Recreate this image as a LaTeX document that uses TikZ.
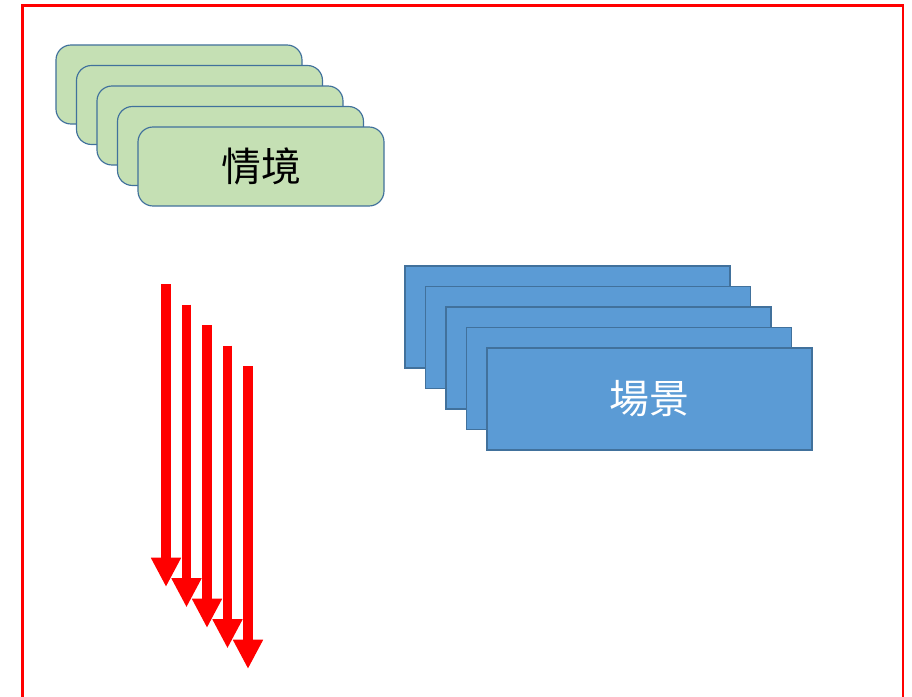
\documentclass[tikz,border=0pt]{standalone}
\usepackage{fontspec}
\newfontfamily\cjk{Noto Sans CJK TC}
\usetikzlibrary{positioning,arrows.meta}
\definecolor{sitgreen}{HTML}{C5E0B4}
\definecolor{scenblue}{HTML}{5B9BD5}
\definecolor{edgeblue}{HTML}{41719C}
\begin{document}
\begin{tikzpicture}[x=0.03cm, y=-0.03cm]

% Define styles
\tikzstyle{situation} = [rectangle, rounded corners=0.45cm, draw=edgeblue, line width=1pt, fill=sitgreen, minimum width=7.38cm, minimum height=2.37cm, font=\cjk\fontsize{34}{40}\selectfont]
\tikzstyle{scene} = [rectangle, draw=edgeblue, line width=1pt, fill=scenblue, minimum width=9.75cm, minimum height=3.06cm, text=white, font=\cjk\fontsize{34}{40}\selectfont]
\tikzstyle{flow} = [red, line width=8.5pt, -{Triangle[width=24pt,length=25pt]}]

\useasboundingbox (0,0) rectangle (912,697);

% Outer frame
\draw [red, line width=2pt] (22.5,710) -- (22.5,5.5) -- (903,5.5) -- (903,710);

% Stack of situations
\node [situation] (sit1) at (179,84.5) {};
\node [situation] (sit2) at (199.5,105) {};
\node [situation] (sit3) at (220,125.5) {};
\node [situation] (sit4) at (240.5,146) {};
\node [situation] (sit5) at (261,166.5) {情境};

% Stack of scenes
\node [scene] (scn1) at (567.5,317) {};
\node [scene] (scn2) at (588,337.5) {};
\node [scene] (scn3) at (608.5,358) {};
\node [scene] (scn4) at (629,378.5) {};
\node [scene] (scn5) at (649.5,399) {場景};

% Arrow ends
\coordinate (a1top) at (166,284);
\coordinate (a1end) at (166,587);
\coordinate (a2top) at (186.5,304.5);
\coordinate (a2end) at (186.5,607.5);
\coordinate (a3top) at (207,325);
\coordinate (a3end) at (207,628);
\coordinate (a4top) at (227.5,345.5);
\coordinate (a4end) at (227.5,648.5);
\coordinate (a5top) at (248,366);
\coordinate (a5end) at (248,669);

% Downward arrows
\draw [flow] (a1top) -- (a1end);
\draw [flow] (a2top) -- (a2end);
\draw [flow] (a3top) -- (a3end);
\draw [flow] (a4top) -- (a4end);
\draw [flow] (a5top) -- (a5end);

\end{tikzpicture}
\end{document}
